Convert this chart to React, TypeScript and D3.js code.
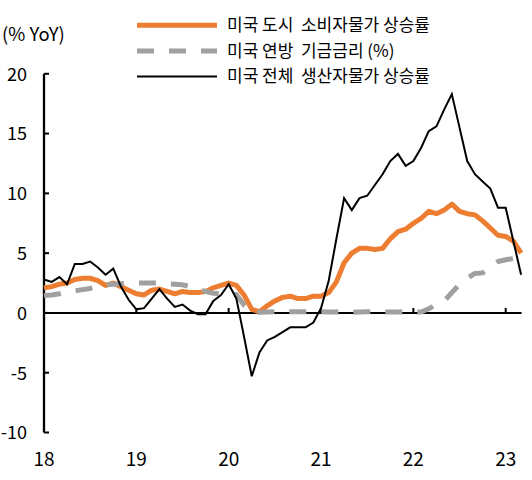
import React from 'react';
import * as d3 from 'd3';

// Monthly data, Jan 2018 .. Mar 2023
const yearLabels = ['18', '19', '20', '21', '22', '23'];
const yTicks = [-10, -5, 0, 5, 10, 15, 20];
const yAxisTitle = '(% YoY)';
const legendLabels = [
  '미국 도시  소비자물가 상승률',
  '미국 연방  기금금리 (%)',
  '미국 전체  생산자물가 상승률',
];

const cpiUrban = [
  2.1, 2.2, 2.4, 2.5, 2.8, 2.9, 2.9, 2.7, 2.3, 2.5, 2.2, 1.9,
  1.6, 1.5, 1.9, 2.0, 1.8, 1.6, 1.8, 1.7, 1.7, 1.8, 2.1, 2.3,
  2.5, 2.3, 1.5, 0.3, 0.1, 0.6, 1.0, 1.3, 1.4, 1.2, 1.2, 1.4,
  1.4, 1.7, 2.6, 4.2, 5.0, 5.4, 5.4, 5.3, 5.4, 6.2, 6.8, 7.0,
  7.5, 7.9, 8.5, 8.3, 8.6, 9.1, 8.5, 8.3, 8.2, 7.7, 7.1, 6.5,
  6.4, 6.0, 5.0,
];

const fedFunds = [
  1.45, 1.5, 1.6, 1.75, 1.85, 1.95, 2.05, 2.2, 2.35, 2.4, 2.45, 2.5,
  2.5, 2.5, 2.5, 2.5, 2.45, 2.4, 2.35, 2.2, 2.0, 1.8, 1.65, 1.6,
  1.55, 1.55, 0.65, 0.05, 0.05, 0.08, 0.09, 0.1, 0.09, 0.09, 0.09, 0.09,
  0.09, 0.08, 0.07, 0.07, 0.06, 0.08, 0.1, 0.09, 0.08, 0.08, 0.08, 0.08,
  0.08, 0.08, 0.35, 0.7, 1.0, 1.7, 2.4, 2.9, 3.3, 3.35, 3.9, 4.3,
  4.45, 4.55, 4.65,
];

const ppiAll = [
  2.8, 2.6, 3.0, 2.4, 4.1, 4.1, 4.3, 3.8, 3.2, 3.7, 2.2, 1.1,
  0.3, 0.4, 1.2, 2.0, 1.2, 0.5, 0.7, 0.2, -0.1, -0.1, 1.0, 1.5,
  2.4, 1.2, -2.0, -5.3, -3.3, -2.3, -2.0, -1.6, -1.2, -1.2, -1.2, -0.8,
  0.4, 2.7, 6.2, 9.6, 8.6, 9.6, 9.8, 10.7, 11.6, 12.7, 13.3, 12.3,
  12.7, 13.8, 15.2, 15.6, 17.0, 18.3, 15.5, 12.7, 11.6, 11.0, 10.4, 8.8,
  8.8, 6.0, 3.2,
];

const ORANGE = '#ED7D31';
const GRAY = '#A0A0A0';
const BLACK = '#000000';
const FONT = '"Noto Sans CJK KR", "Noto Sans", sans-serif';

export default function App() {
  const x = d3.scaleLinear().domain([0, 60]).range([44, 505.7]);
  const y = d3.scaleLinear().domain([-10, 20]).range([432.5, 73.8]);

  const line = d3
    .line<number>()
    .x((_, i) => x(i))
    .y((d) => y(d));

  const lastIdx = cpiUrban.length - 1;
  const yearIdx = yearLabels.map((_, k) => k * 12);

  const legend = [
    { label: legendLabels[0], color: ORANGE, width: 5, dash: undefined },
    { label: legendLabels[1], color: GRAY, width: 5, dash: '17,15' },
    { label: legendLabels[2], color: BLACK, width: 2, dash: undefined },
  ];
  const legendY = [25.3, 51, 76.5];

  return (
    <svg
      width={532}
      height={480}
      style={{ position: 'absolute', left: 0, top: 0, background: '#fff' }}
      fontFamily={FONT}
    >
      {/* axis title */}
      <text x={2} y={41} fontSize={18.5} fill="#000">
        {yAxisTitle}
      </text>

      {/* y axis */}
      <line x1={x(0)} x2={x(0)} y1={y(20)} y2={y(-10)} stroke="#000" strokeWidth={2.3} />
      {yTicks.map((t) => (
        <g key={t}>
          <line x1={x(0)} x2={x(0) + 5} y1={y(t)} y2={y(t)} stroke="#000" strokeWidth={2} />
          <text x={27} y={y(t) + 6.8} textAnchor="end" fontSize={18} fill="#000">
            {t}
          </text>
        </g>
      ))}

      {/* x axis at zero */}
      <line x1={x(0)} x2={x(lastIdx) + 0.5} y1={y(0)} y2={y(0)} stroke="#000" strokeWidth={2} />
      {yearIdx.map((idx, k) => (
        <g key={k}>
          <line x1={x(idx)} x2={x(idx)} y1={y(0)} y2={y(0) - 5} stroke="#000" strokeWidth={2} />
          <text x={x(idx)} y={466} textAnchor="middle" fontSize={19} fill="#000">
            {yearLabels[k]}
          </text>
        </g>
      ))}

      {/* series */}
      <path d={line(cpiUrban) || ''} fill="none" stroke={ORANGE} strokeWidth={5} strokeLinejoin="round" />
      <path d={line(fedFunds) || ''} fill="none" stroke={GRAY} strokeWidth={5} strokeDasharray="17,15" strokeLinejoin="round" />
      <path d={line(ppiAll) || ''} fill="none" stroke={BLACK} strokeWidth={2} strokeLinejoin="miter" />

      {/* legend */}
      {legend.map((l, i) => (
        <g key={i}>
          <line
            x1={137}
            x2={217}
            y1={legendY[i]}
            y2={legendY[i]}
            stroke={l.color}
            strokeWidth={l.width}
            strokeDasharray={l.dash}
          />
          <text x={227} y={legendY[i] + 5.8} fontSize={17} fill="#000" style={{ whiteSpace: 'pre' }}>
            {l.label}
          </text>
        </g>
      ))}
    </svg>
  );
}
